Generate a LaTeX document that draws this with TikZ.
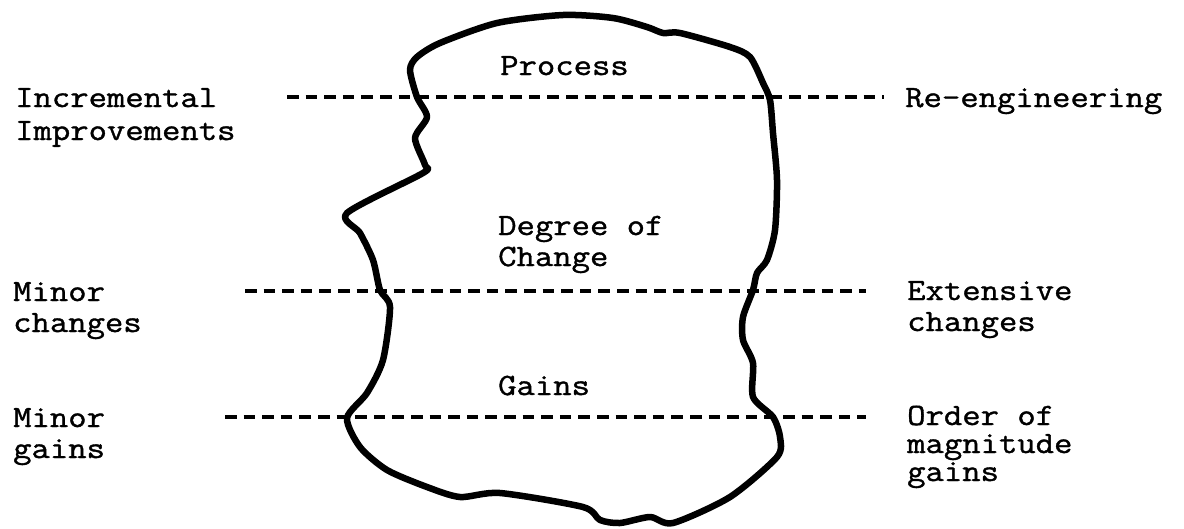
\documentclass[tikz,border=0pt]{standalone}
\usepackage{fontspec}
\setmonofont{Latin Modern Mono}[FakeStretch=1.15,FakeBold=1.2]
\begin{document}
\begin{tikzpicture}[x=1pt,y=-1pt,
  lbl/.style={font=\ttfamily\fontsize{31}{31}\selectfont, inner sep=0pt, align=left, anchor=base west},
  divider/.style={line width=4pt, dash pattern=on 11.5pt off 7.1pt},
  blob/.style={line width=6.5pt, line join=round}]
\useasboundingbox (0,0) rectangle (1184,528);

% blob outline
\draw[blob] plot[smooth cycle, tension=0.45] coordinates {
 (410,70) (417,57) (440,43) (497,23) (563,15) (613,18) (647,27) (663,33) (680,33)
 (730,47) (750,57) (763,83) (770,100) (773,133) (777,180) (775,230) (767,260)
 (757,273) (753,290) (743,317) (743,340) (753,363) (753,397) (773,417) (780,437)
 (777,457) (730,497) (673,523) (650,517) (620,523) (600,520) (583,507) (500,493)
 (460,497) (427,487) (387,470) (360,447) (347,418) (367,393) (383,360) (390,307)
 (380,290) (373,260) (360,233) (347,213) (423,173) (425,165) (415,138) (427,117)
 (417,97)};

% labels (base anchor = baseline of the last line)
\node[lbl] (incr) at (15,140) {Incremental\\[2pt]Improvements};
\node[lbl] (reeng) at (905,107) {Re-engineering};
\node[lbl] (minc) at (13,332) {Minor\\changes};
\node[lbl] (extc) at (907,331) {Extensive\\changes};
\node[lbl] (ming) at (13,458) {Minor\\gains};
\node[lbl] (ordg) at (907,481) {Order of\\[-3pt]magnitude\\[-3pt]gains};

\node[lbl] (process) at (500,75) {Process};
\node[lbl] (degree) at (498,266) {Degree of\\Change};
\node[lbl] (gains) at (498,395) {Gains};

% dashed dividers
\coordinate (d1a) at (287,97);  \coordinate (d1b) at (884,97);
\coordinate (d2a) at (245,291); \coordinate (d2b) at (866,291);
\coordinate (d3a) at (225,417); \coordinate (d3b) at (866,417);
\draw[divider] (d1a) -- (d1b);
\draw[divider] (d2a) -- (d2b);
\draw[divider] (d3a) -- (d3b);
\end{tikzpicture}
\end{document}
